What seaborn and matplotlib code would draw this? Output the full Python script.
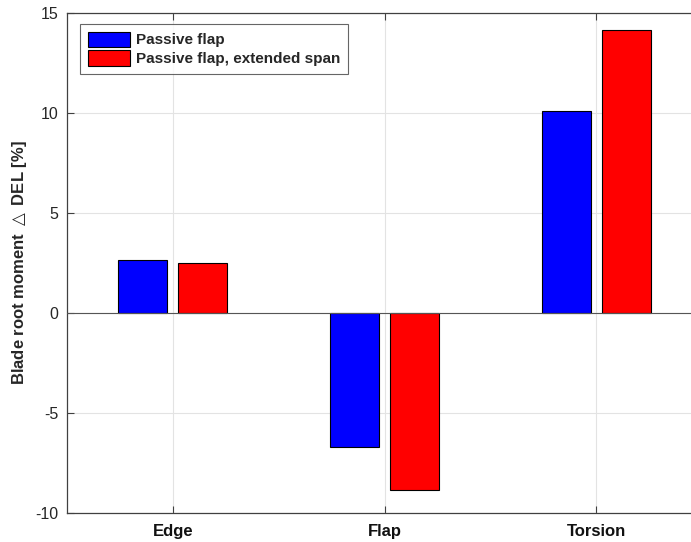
import matplotlib
matplotlib.use("Agg")
import matplotlib.pyplot as plt
import seaborn as sns
import pandas as pd

categories = ["Edge", "Flap", "Torsion"]
series_names = ["Passive flap", "Passive flap, extended span"]
passive_flap = [2.65, -6.7, 10.1]
extended_span = [2.52, -8.85, 14.15]
y_ticks = [-10, -5, 0, 5, 10, 15]

df = pd.DataFrame({
    "Load": categories * 2,
    "Case": [series_names[0]] * 3 + [series_names[1]] * 3,
    "DEL": passive_flap + extended_span,
})

sns.set_style("white")
plt.rcParams["font.family"] = ["Liberation Sans", "DejaVu Sans"]

fig = plt.figure(figsize=(6.91, 5.42), dpi=100)
# axes runs past the right edge of the picture, as in the reference
ax = fig.add_axes([67 / 691, 1 - 513 / 542, 635 / 691, 500 / 542])

sns.barplot(data=df, x="Load", y="DEL", hue="Case", order=categories,
            hue_order=series_names, palette=["#0000ff", "#ff0000"],
            width=0.567, gap=0.18, edgecolor="black", linewidth=0.8,
            saturation=1, ax=ax, zorder=3)

ax.set_xlim(-0.5, 2.5)
ax.set_ylim(-10, 15)
ax.set_yticks(y_ticks)
ax.set_yticklabels([str(t) for t in y_ticks], fontsize=11.5, color="#262626")
ax.set_xticks(range(len(categories)))
ax.set_xticklabels(categories, fontsize=12, fontweight="bold", color="#111111")
ax.set_xlabel("")
ax.set_ylabel("Blade root moment $\\triangle$ DEL [%]", fontsize=12,
              fontweight="bold", labelpad=0, color="#262626")
ax.yaxis.set_label_coords(-0.06, 0.5)

ax.grid(True, color="#e3e3e3", linewidth=0.8, zorder=0)
ax.set_axisbelow(True)
ax.axhline(0, color="#555555", linewidth=0.8, zorder=4)

for side in ["left", "bottom", "top"]:
    ax.spines[side].set_color("#404040")
    ax.spines[side].set_linewidth(0.9)
ax.spines["right"].set_visible(False)
ax.tick_params(direction="in", length=5, width=0.8, color="#404040",
               top=True, left=True, bottom=True, pad=6)
ax.tick_params(axis="x", pad=8)

leg = ax.legend(loc="upper left", bbox_to_anchor=(0.0205, 0.978),
                prop={"weight": "bold", "size": 11}, frameon=True,
                fancybox=False, edgecolor="#404040", handlelength=2.8,
                handleheight=1.15, handletextpad=0.35, borderpad=0.5,
                labelspacing=0.2, borderaxespad=0)
leg.get_frame().set_linewidth(0.8)

fig.savefig("out.png", dpi=100)
